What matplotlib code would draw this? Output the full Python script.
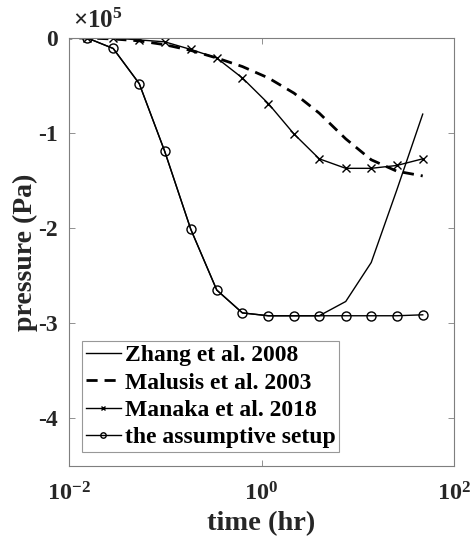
import matplotlib
matplotlib.use("Agg")
import matplotlib.pyplot as plt
from matplotlib.ticker import FixedLocator, FuncFormatter, NullLocator

plt.rcParams['font.family'] = ['Liberation Serif', 'DejaVu Serif']
plt.rcParams['font.weight'] = 'bold'
plt.rcParams['mathtext.fontset'] = 'custom'
plt.rcParams['mathtext.rm'] = 'Liberation Serif:bold'
plt.rcParams['mathtext.bf'] = 'Liberation Serif:bold'
plt.rcParams['mathtext.it'] = 'Liberation Serif:bold'
plt.rcParams['axes.unicode_minus'] = False

# time (hr)
time_hr = [0.0083, 0.0155, 0.0288, 0.0537, 0.0986, 0.184, 0.343, 0.633,
           1.18, 2.18, 3.98, 7.5, 13.8, 25.4, 47.3]

# pressure in units of 1e5 Pa
zhang = [0, 0, -0.11, -0.48, -1.19, -2.01, -2.65, -2.89,
         -2.92, -2.92, -2.92, -2.77, -2.36, -1.60, -0.80]
malusis = [0, 0, -0.01, -0.03, -0.07, -0.13, -0.21, -0.30,
           -0.42, -0.58, -0.79, -1.06, -1.28, -1.40, -1.45]
manaka = [0, 0, 0, -0.02, -0.04, -0.12, -0.21, -0.42,
          -0.69, -1.01, -1.27, -1.37, -1.37, -1.34, -1.27]
assumptive = [0, 0, -0.11, -0.48, -1.19, -2.01, -2.65, -2.89,
              -2.92, -2.92, -2.92, -2.92, -2.92, -2.92, -2.91]

labels = ["Zhang et al. 2008", "Malusis et al. 2003",
          "Manaka et al. 2018", "the assumptive setup"]
xticks = [1e-2, 1e0, 1e2]
xticklabels = [r"$\mathbf{10^{-2}}$", r"$\mathbf{10^{0}}$", r"$\mathbf{10^{2}}$"]
yticks = [0, -1, -2, -3, -4]

fig = plt.figure(figsize=(4.70, 5.47), dpi=100)
ax = fig.add_axes([0.1468, 0.148, 0.8192, 0.7825])

ax.plot(time_hr, zhang, color='black', lw=1.0, label=labels[0])
ax.plot(time_hr, malusis, color='black', lw=2.0, ls=(0, (4, 2.5)), label=labels[1])
ax.plot(time_hr, manaka, color='black', lw=1.0, marker='x', ms=6, mew=1.0,
        label=labels[2])
ax.plot(time_hr, assumptive, color='black', lw=1.0, marker='o', ms=6.5,
        mfc='none', mew=1.0, label=labels[3])

ax.set_xscale('log')
ax.set_xlim(1e-2, 1e2)
ax.set_ylim(-4.5, 0)
ax.xaxis.set_major_locator(FixedLocator(xticks))
ax.xaxis.set_minor_locator(NullLocator())
ax.set_xticklabels(xticklabels)
ax.yaxis.set_major_locator(FixedLocator(yticks))
ax.yaxis.set_major_formatter(FuncFormatter(lambda v, p: "%d" % round(v)))

grey = '#262626'
for s in ax.spines.values():
    s.set_color('#7f7f7f')
    s.set_linewidth(0.8)
ax.tick_params(direction='in', length=4, width=0.6, color='#7f7f7f',
               top=True, right=True, labelsize=17, labelcolor=grey, pad=8)
ax.tick_params(axis='x', pad=12, labelsize=17.5)

ax.set_xlabel("time (hr)", fontsize=20.5, fontweight='bold', color=grey, labelpad=4)
ax.set_ylabel("pressure (Pa)", fontsize=20, fontweight='bold', color=grey, labelpad=0)

ax.text(0.01, 1.012, r"$\mathbf{\times 10^{5}}$", transform=ax.transAxes,
        fontsize=18, color=grey, ha='left', va='bottom')

leg = ax.legend(loc='lower left', bbox_to_anchor=(0.034, 0.033), fontsize=17,
                frameon=True, fancybox=False, edgecolor='#7f7f7f',
                handlelength=1.5, handletextpad=0.15, labelspacing=0.25,
                borderpad=0.15, borderaxespad=0, numpoints=1, markerscale=0.6)
leg.get_frame().set_linewidth(0.8)
for t in leg.get_texts():
    t.set_color('black')

fig.savefig("out.png", dpi=100)
